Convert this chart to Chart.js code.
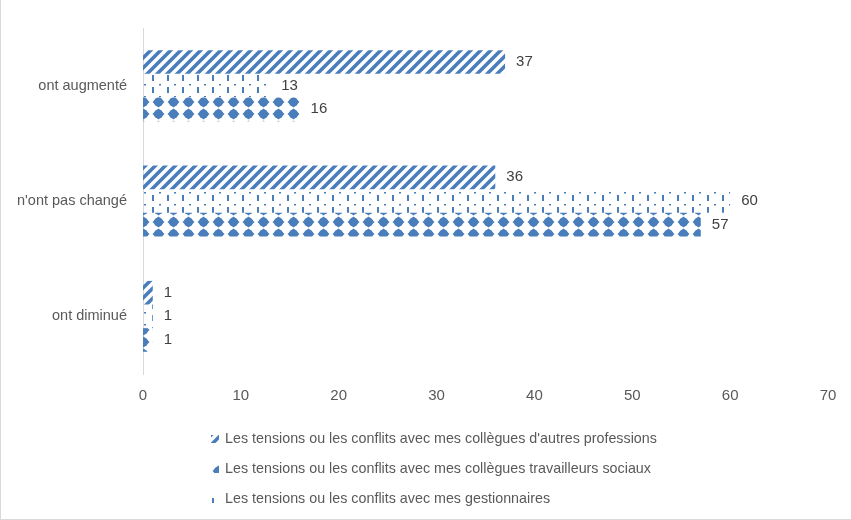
<!DOCTYPE html>
<html>
<head>
<meta charset="utf-8">
<script src="https://cdn.jsdelivr.net/npm/chart.js@4"></script>
<style>
  html, body { margin: 0; padding: 0; background: #fff; }
  #wrap { position: relative; width: 851px; height: 520px; box-sizing: border-box; border-left: 1px solid #d9d9d9; border-bottom: 1px solid #d9d9d9; }
  #legend { position: absolute; left: 210px; top: 427px; font-family: "Liberation Sans", Arial, sans-serif; font-size: 14.3px; color: #595959; }
  #legend div { height: 30px; line-height: 22px; white-space: nowrap; }
  #legend canvas { vertical-align: middle; margin-right: 6px; }
</style>
</head>
<body>
<div id="wrap">
  <canvas id="chart" width="851" height="520"></canvas>
  <div id="legend"></div>
</div>
<script>
const categories = ["ont augmenté", "n'ont pas changé", "ont diminué"];
const seriesNames = [
  "Les tensions ou les conflits avec mes collègues d'autres professions",
  "Les tensions ou les conflits avec mes gestionnaires",
  "Les tensions ou les conflits avec mes collègues travailleurs sociaux"
];
const autresProfessions = [37, 36, 1];
const gestionnaires = [13, 60, 1];
const travailleursSociaux = [16, 57, 1];
const xTicks = [0, 10, 20, 30, 40, 50, 60, 70];
const legendOrder = [0, 2, 1];

const blue = "#4a7ebb";

// build a small repeating tile for each bar fill
function makePattern(kind) {
  const c = document.createElement("canvas");
  if (kind === "diag") { c.width = 10; c.height = 10; }
  else { c.width = 15; c.height = 12; }
  const g = c.getContext("2d");
  g.fillStyle = blue;
  g.strokeStyle = blue;
  if (kind === "diag") {
    g.lineWidth = 3.6;
    g.beginPath();
    g.moveTo(-2, 12); g.lineTo(12, -2);
    g.moveTo(-7, 7); g.lineTo(7, -7);
    g.moveTo(3, 17); g.lineTo(17, 3);
    g.stroke();
  } else if (kind === "dash") {
    g.fillRect(1, 3, 2, 6);
    g.fillRect(8, 0, 2, 1.5);
  } else {
    g.beginPath();
    g.moveTo(7.5, 0.5); g.lineTo(13.5, 6); g.lineTo(7.5, 11.5); g.lineTo(1.5, 6);
    g.closePath();
    g.fill();
    g.beginPath();
    g.arc(7.5, 6, 4.6, 0, Math.PI * 2);
    g.fill();
  }
  return { tile: c, pattern: g.createPattern(c, "repeat") };
}

const fills = [makePattern("diag"), makePattern("dash"), makePattern("diam")];

// value labels at the end of each bar
const valueLabels = {
  id: "valueLabels",
  afterDatasetsDraw(chart) {
    const ctx = chart.ctx;
    ctx.save();
    ctx.font = "15px 'Liberation Sans', Arial, sans-serif";
    ctx.fillStyle = "#404040";
    ctx.textBaseline = "middle";
    chart.data.datasets.forEach((ds, i) => {
      chart.getDatasetMeta(i).data.forEach((bar, j) => {
        ctx.fillText(ds.data[j], bar.x + 11, bar.y);
      });
    });
    ctx.restore();
  }
};

const chart = new Chart(document.getElementById("chart"), {
  type: "bar",
  plugins: [valueLabels],
  data: {
    labels: categories,
    datasets: [
      { label: seriesNames[0], data: autresProfessions, backgroundColor: fills[0].pattern },
      { label: seriesNames[1], data: gestionnaires, backgroundColor: fills[1].pattern },
      { label: seriesNames[2], data: travailleursSociaux, backgroundColor: fills[2].pattern }
    ]
  },
  options: {
    indexAxis: "y",
    responsive: false,
    animation: false,
    layout: { padding: { top: 28, right: 24, bottom: 110, left: 10 } },
    datasets: { bar: { categoryPercentage: 0.615, barPercentage: 1 } },
    plugins: { legend: { display: false }, tooltip: { enabled: false } },
    scales: {
      x: {
        min: 0, max: 70,
        afterBuildTicks: (axis) => { axis.ticks = xTicks.map(v => ({ value: v })); },
        grid: { display: false },
        border: { display: false },
        ticks: { color: "#595959", padding: 5, font: { family: "'Liberation Sans', Arial, sans-serif", size: 15 } }
      },
      y: {
        grid: { display: false },
        border: { color: "#d9d9d9" },
        afterFit: (axis) => { axis.width = 132; },
        ticks: { color: "#595959", padding: 8, font: { family: "'Liberation Sans', Arial, sans-serif", size: 14.5 } }
      }
    }
  }
});

// html legend, one series per line
const legendEl = document.getElementById("legend");
legendOrder.forEach((i) => {
  const row = document.createElement("div");
  const sw = document.createElement("canvas");
  sw.width = 8; sw.height = 8;
  const sg = sw.getContext("2d");
  sg.fillStyle = sg.createPattern(fills[i].tile, "repeat");
  sg.fillRect(0, 0, 8, 8);
  row.appendChild(sw);
  row.appendChild(document.createTextNode(chart.data.datasets[i].label));
  legendEl.appendChild(row);
});
</script>
</body>
</html>
